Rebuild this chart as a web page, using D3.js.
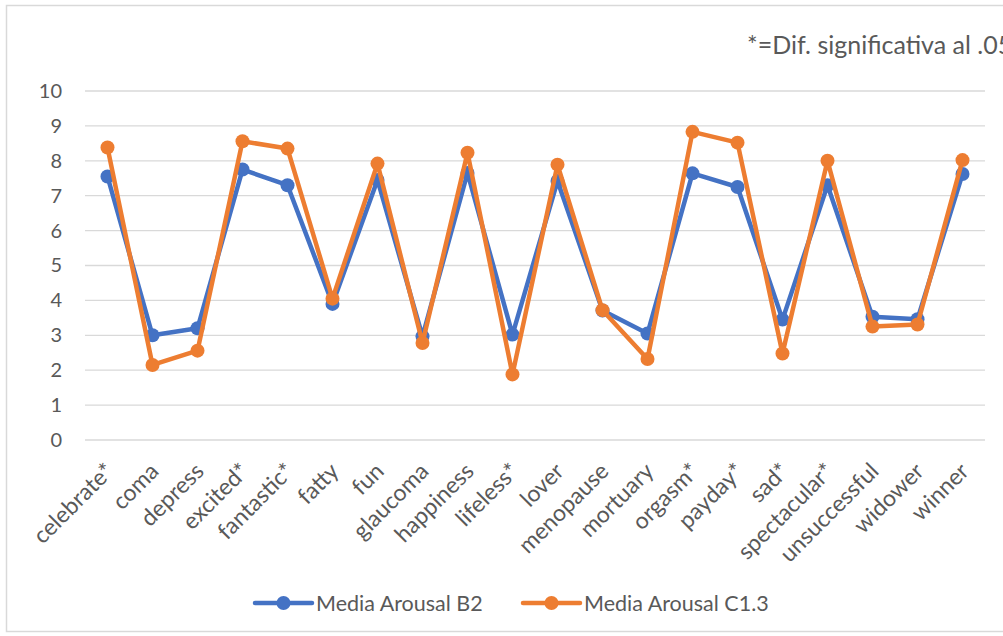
<!DOCTYPE html>
<html>
<head>
<meta charset="utf-8">
<script src="https://cdn.jsdelivr.net/npm/d3@7"></script>
<style>
  body { margin: 0; background: #fff; }
  svg { display: block; font-family: Lato, "Open Sans", sans-serif; }
</style>
</head>
<body>
<svg id="chart"></svg>
<script>
// categories and values
var words = ["celebrate*", "coma", "depress", "excited*", "fantastic*", "fatty", "fun",
  "glaucoma", "happiness", "lifeless*", "lover", "menopause", "mortuary", "orgasm*",
  "payday*", "sad*", "spectacular*", "unsuccessful", "widower", "winner"];
var arousalB2 = [7.55, 3.0, 3.2, 7.75, 7.3, 3.9, 7.45, 2.97, 7.65, 3.02, 7.42, 3.71, 3.05,
  7.64, 7.25, 3.45, 7.3, 3.53, 3.46, 7.62];
var arousalC13 = [8.38, 2.15, 2.56, 8.56, 8.35, 4.05, 7.92, 2.78, 8.23, 1.88, 7.89, 3.72, 2.32,
  8.83, 8.52, 2.48, 8.0, 3.25, 3.31, 8.02];
var yTicks = [0, 1, 2, 3, 4, 5, 6, 7, 8, 9, 10];
var seriesNames = ["Media Arousal B2", "Media Arousal C1.3"];
var colors = ["#4472C4", "#ED7D31"];

var W = 1003, H = 636;
var margin = {top: 91, right: 18, bottom: 196, left: 85};
var width = W - margin.left - margin.right,
    height = H - margin.top - margin.bottom;

var svg = d3.select("#chart")
    .attr("width", W)
    .attr("height", H);

// outer chart border
svg.append("rect")
    .attr("x", 6.5).attr("y", 5.5)
    .attr("width", W + 10).attr("height", 626)
    .attr("fill", "none")
    .attr("stroke", "#d9d9d9")
    .attr("stroke-width", 1.5);

// note text
svg.append("text")
    .attr("x", 747).attr("y", 54)
    .attr("fill", "#595959")
    .style("font-size", "25px")
    .text("*=Dif. significativa al .05");

var g = svg.append("g")
    .attr("transform", "translate(" + margin.left + "," + margin.top + ")");

var x = d3.scaleBand()
    .domain(words)
    .range([0, width]);

var y = d3.scaleLinear()
    .domain([0, 10])
    .range([height, 0]);

// gridlines
g.append("g")
  .selectAll("line")
  .data(yTicks)
  .enter()
  .append("line")
    .attr("x1", 0).attr("x2", width)
    .attr("y1", function(d) { return y(d); })
    .attr("y2", function(d) { return y(d); })
    .attr("stroke", "#d9d9d9")
    .attr("stroke-width", 1.3);

// Y axis
var yAxis = g.append("g")
    .call(d3.axisLeft(y).tickValues(yTicks).tickSize(0).tickPadding(23));
yAxis.select(".domain").remove();
yAxis.selectAll("text")
    .attr("fill", "#595959")
    .style("font-size", "20px")
    .style("font-family", "Lato, 'Open Sans', sans-serif");

// X axis
var xAxis = g.append("g")
    .attr("transform", "translate(0," + height + ")")
    .call(d3.axisBottom(x).tickSize(0).tickPadding(0));
xAxis.select(".domain").remove();
xAxis.selectAll("text")
    .attr("fill", "#595959")
    .style("font-size", "23px")
    .style("font-family", "Lato, 'Open Sans', sans-serif")
    .attr("text-anchor", "end")
    .attr("dy", "0.35em")
    .attr("transform", "translate(2,27) rotate(-45)");

// lines and dots
var series = [arousalB2, arousalC13];
var line = d3.line()
    .x(function(d, i) { return x(words[i]) + x.bandwidth() / 2; })
    .y(function(d) { return y(d); });

series.forEach(function(vals, s) {
  g.append("path")
    .datum(vals)
    .attr("fill", "none")
    .attr("stroke", colors[s])
    .attr("stroke-width", 4.5)
    .attr("stroke-linejoin", "round")
    .attr("d", line);
  g.append("g")
    .selectAll("circle")
    .data(vals)
    .enter()
    .append("circle")
      .attr("cx", function(d, i) { return x(words[i]) + x.bandwidth() / 2; })
      .attr("cy", function(d) { return y(d); })
      .attr("r", 7)
      .attr("fill", colors[s]);
});

// legend
var legendX = [255, 523];
var legend = svg.append("g");
seriesNames.forEach(function(name, s) {
  var lx = legendX[s], ly = 603;
  legend.append("line")
    .attr("x1", lx).attr("x2", lx + 57)
    .attr("y1", ly).attr("y2", ly)
    .attr("stroke", colors[s])
    .attr("stroke-width", 4.5)
    .attr("stroke-linecap", "round");
  legend.append("circle")
    .attr("cx", lx + 28.5).attr("cy", ly)
    .attr("r", 7)
    .attr("fill", colors[s]);
  legend.append("text")
    .attr("x", lx + 61).attr("y", ly)
    .attr("dy", "0.35em")
    .attr("fill", "#595959")
    .style("font-size", "21.5px")
    .text(name);
});
</script>
</body>
</html>
